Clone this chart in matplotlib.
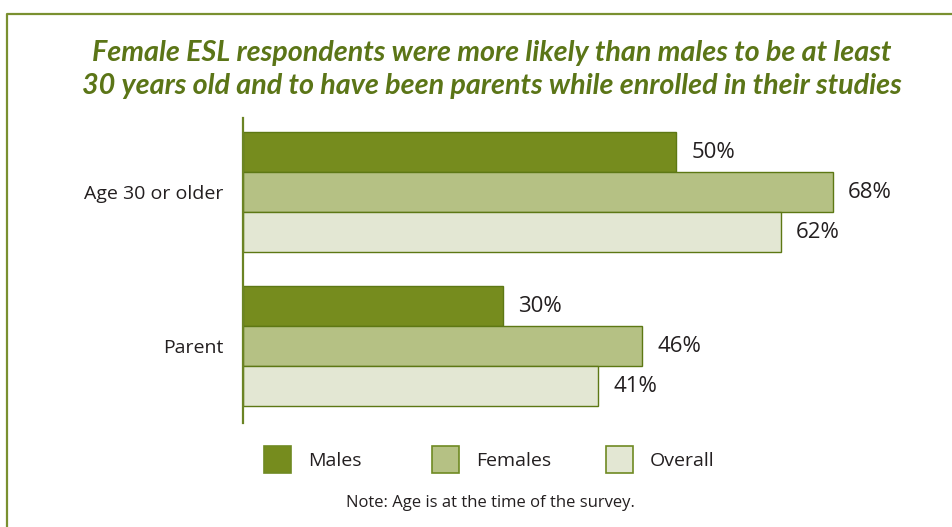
import matplotlib
matplotlib.use("Agg")
import matplotlib.pyplot as plt
from matplotlib.patches import Rectangle
from matplotlib.lines import Line2D
import numpy as np

plt.rcParams['font.family'] = ['Open Sans', 'DejaVu Sans']

categories = ["Age 30 or older", "Parent"]
series_names = ["Males", "Females", "Overall"]
males = [50, 30]
females = [68, 46]
overall = [62, 41]
series_values = [males, females, overall]
value_labels = [[f"{v}%" for v in s] for s in series_values]

fill_colors = ["#768c1e", "#b5c184", "#e3e7d3"]
edge_color = "#5d7814"
title_color = "#5b7517"
text_color = "#231f20"

W, H = 953, 527
fig = plt.figure(figsize=(W / 100, H / 100), dpi=100)

def fx(px):
    return px / W

def fy(py):
    return 1 - py / H

# frame lines along top and left
fig.add_artist(Line2D([fx(7), fx(7), fx(953)], [fy(527), fy(14), fy(14)],
                      transform=fig.transFigure, color="#7a9030", lw=1.6))

# title
title_font = dict(family=['Lato', 'DejaVu Sans'], fontsize=20.7, fontweight="bold",
                  style="italic", color=title_color, ha="center", va="center")
fig.text(fx(492), fy(53), "Female ESL respondents were more likely than males to be at least",
         **title_font)
fig.text(fx(492), fy(86), "30 years old and to have been parents while enrolled in their studies",
         **title_font)

ax_left, ax_right, ax_top, ax_bottom = 243, 953, 118, 423
ax = fig.add_axes([fx(ax_left), fy(ax_bottom), fx(ax_right - ax_left), (ax_bottom - ax_top) / H])

px_per_pct = 8.67
group_gap = 154.0
bar_h = 40 / group_gap
y = np.arange(len(categories))
offsets = [-bar_h, 0, bar_h]

for vals, off, fc, labels in zip(series_values, offsets, fill_colors, value_labels):
    bars = ax.barh(y + off, vals, height=bar_h, color=fc, edgecolor=edge_color, linewidth=1.0)
    for b, lab in zip(bars, labels):
        ax.annotate(lab, (b.get_width(), b.get_y() + b.get_height() / 2),
                    xytext=(11, 0), textcoords="offset points", ha="left", va="center",
                    fontsize=16, color=text_color)

ax.set_xlim(0, (ax_right - ax_left) / px_per_pct)
ax.set_ylim(1 + (ax_bottom - 346) / group_gap, -(192 - ax_top) / group_gap)
ax.set_yticks(y)
ax.set_yticklabels(categories, fontsize=14, color=text_color)
ax.tick_params(axis="y", length=0, pad=14)
ax.set_xticks([])
for s in ["top", "right", "bottom"]:
    ax.spines[s].set_visible(False)
ax.spines["left"].set_color("#6b8424")
ax.spines["left"].set_linewidth(1.6)
ax.patch.set_alpha(0)

# legend
legend_x = [264, 432, 606]
for name, fc, lx in zip(series_names, fill_colors, legend_x):
    fig.add_artist(Rectangle((fx(lx), fy(473)), fx(27), 27 / H, transform=fig.transFigure,
                             facecolor=fc, edgecolor="#6f8a22", linewidth=1.2))
    fig.text(fx(lx + 44), fy(461), name, ha="left", va="center", fontsize=14, color=text_color)

fig.text(fx(490), fy(503), "Note: Age is at the time of the survey.", ha="center", va="center",
         fontsize=12, color=text_color)

fig.savefig("out.png", dpi=100)
